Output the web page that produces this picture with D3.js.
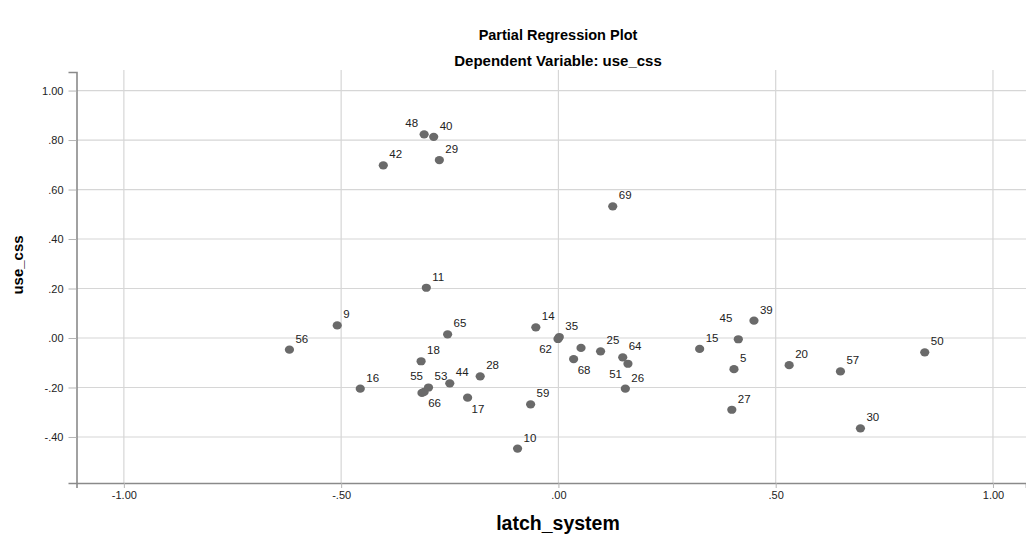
<!DOCTYPE html>
<html>
<head>
<meta charset="utf-8">
<script src="https://cdn.jsdelivr.net/npm/d3@7"></script>
<style>
  html, body { margin: 0; padding: 0; background: #fff; }
  svg { display: block; font-family: "Liberation Sans", Arial, sans-serif; }
</style>
</head>
<body>
<div id="chart"></div>
<script>
// case numbers shown next to the points ("" = no label drawn)
const caseIds = ["48", "40", "42", "29", "69", "11", "9", "56", "65", "14",
                 "35", "62", "", "68", "25", "64", "51", "26", "18", "28",
                 "16", "55", "66", "53", "44", "17", "59", "10", "15", "45",
                 "39", "5", "20", "57", "50", "27", "30"];

// latch_system residuals (x)
const latchSystem = [-0.309, -0.287, -0.403, -0.274, 0.125, -0.304, -0.509, -0.619, -0.255, -0.052,
                     0.002, -0.001, 0.052, 0.035, 0.097, 0.148, 0.160, 0.154, -0.316, -0.180,
                     -0.456, -0.314, -0.309, -0.299, -0.250, -0.209, -0.064, -0.094, 0.325, 0.414,
                     0.450, 0.404, 0.531, 0.649, 0.843, 0.399, 0.695];

// use_css residuals (y)
const useCss = [0.823, 0.813, 0.698, 0.719, 0.532, 0.203, 0.051, -0.047, 0.015, 0.043,
                0.004, -0.004, -0.040, -0.085, -0.054, -0.078, -0.104, -0.205, -0.094, -0.155,
                -0.205, -0.222, -0.218, -0.200, -0.183, -0.241, -0.268, -0.447, -0.044, -0.005,
                0.070, -0.126, -0.110, -0.135, -0.058, -0.290, -0.365];

// where each case label sits around its point
const labelSide = ["nw", "ne", "ne", "ne", "ne", "ne", "ne", "ne", "ne", "ne",
                   "ne", "sw", "ne", "se", "ne", "ne", "sw", "ne", "ne", "ne",
                   "ne", "nnw", "se", "ne", "ne", "se", "ne", "ne", "ne", "nw2",
                   "ne", "ne", "ne", "ne", "ne", "ne", "ne"];

const xTicks = [-1, -0.5, 0, 0.5, 1];
const yTicks = [-0.4, -0.2, 0, 0.2, 0.4, 0.6, 0.8, 1.0];

const width = 1026, height = 540;
const plotLeft = 76.5, plotRight = 1026, plotTop = 72, plotBottom = 483;

// SPSS style: drop the leading zero (.50, -.20)
const spssFmt = v => v.toFixed(2).replace(/^(-?)0\./, "$1.");

const x = d3.scaleLinear().domain([-1.109, 1.076]).range([plotLeft, plotRight]);
const y = d3.scaleLinear().domain([-0.586, 1.075]).range([plotBottom, plotTop]);

const points = caseIds.map((id, i) => ({ id, x: latchSystem[i], y: useCss[i], side: labelSide[i] }));

const svg = d3.select("#chart").append("svg")
    .attr("width", width)
    .attr("height", height);

// titles
svg.append("text")
    .attr("x", 558).attr("y", 40)
    .attr("text-anchor", "middle")
    .style("font-size", "14.5px").style("font-weight", "bold")
    .text("Partial Regression Plot");

svg.append("text")
    .attr("x", 558).attr("y", 66)
    .attr("text-anchor", "middle")
    .style("font-size", "15px").style("font-weight", "bold")
    .text("Dependent Variable: use_css");

// grid
svg.append("g")
    .selectAll("line")
    .data(xTicks)
    .join("line")
    .attr("x1", d => x(d)).attr("x2", d => x(d))
    .attr("y1", plotTop - 2).attr("y2", plotBottom)
    .attr("stroke", "#d6d6d6").attr("stroke-width", 1.2);

svg.append("g")
    .selectAll("line")
    .data(yTicks)
    .join("line")
    .attr("x1", plotLeft).attr("x2", plotRight)
    .attr("y1", d => y(d)).attr("y2", d => y(d))
    .attr("stroke", "#d6d6d6").attr("stroke-width", 1.2);

// axes
const xAxis = svg.append("g")
    .attr("transform", `translate(0,${plotBottom})`)
    .call(d3.axisBottom(x).tickValues(xTicks).tickFormat(spssFmt).tickSizeOuter(0).tickSize(5).tickPadding(3));

const yAxis = svg.append("g")
    .attr("transform", `translate(${plotLeft},0)`)
    .call(d3.axisLeft(y).tickValues(yTicks).tickFormat(spssFmt).tickSizeOuter(0).tickSize(8).tickPadding(5));

[xAxis, yAxis].forEach(g => {
    g.select(".domain").attr("stroke", "#8a8a8a").attr("stroke-width", 1.6);
    g.selectAll(".tick line").attr("stroke", "#b5b5b5");
    g.selectAll(".tick text")
        .attr("fill", "#222")
        .style("font-family", "'Liberation Sans', Arial, sans-serif")
        .style("font-size", "11px");
});

// axis titles
svg.append("text")
    .attr("x", 558).attr("y", 530)
    .attr("text-anchor", "middle")
    .style("font-size", "19.5px").style("font-weight", "bold")
    .text("latch_system");

svg.append("text")
    .attr("transform", "translate(23,265) rotate(-90)")
    .attr("text-anchor", "middle")
    .style("font-size", "15px").style("font-weight", "bold")
    .text("use_css");

// points
svg.append("g")
    .selectAll("ellipse")
    .data(points)
    .join("ellipse")
    .attr("cx", d => x(d.x))
    .attr("cy", d => y(d.y))
    .attr("rx", 4.6).attr("ry", 4.1)
    .attr("fill", "#6a6a6a");

// case labels
const offsets = {
    ne: { dx: 6, dy: -7, anchor: "start" },
    nw: { dx: -6, dy: -7, anchor: "end" },
    nw2: { dx: -6, dy: -17, anchor: "end" },
    nnw: { dx: 1, dy: -13, anchor: "end" },
    se: { dx: 4, dy: 15, anchor: "start" },
    sw: { dx: -6, dy: 14, anchor: "end" }
};

svg.append("g")
    .selectAll("text")
    .data(points.filter(d => d.id !== ""))
    .join("text")
    .attr("x", d => x(d.x) + offsets[d.side].dx)
    .attr("y", d => y(d.y) + offsets[d.side].dy)
    .attr("text-anchor", d => offsets[d.side].anchor)
    .style("font-size", "11.5px")
    .attr("fill", "#222")
    .text(d => d.id);
</script>
</body>
</html>
